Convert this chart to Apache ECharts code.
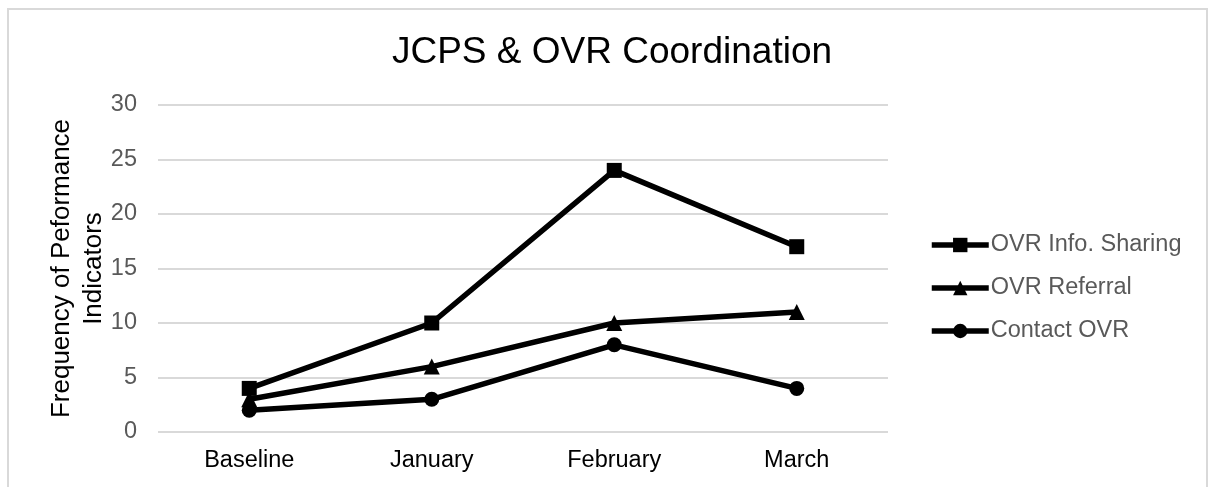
<!DOCTYPE html>
<html>
<head>
<meta charset="utf-8">
<script src="https://cdn.jsdelivr.net/npm/echarts@6/dist/echarts.min.js"></script>
<style>html,body{margin:0;padding:0;background:#fff}#c{width:1209px;height:487px}</style>
</head>
<body>
<div id="c"></div>
<script>
const categories = ['Baseline', 'January', 'February', 'March'];
const infoSharing = [4, 10, 24, 17];
const referral = [3, 6, 10, 11];
const contact = [2, 3, 8, 4];
const yTicks = [0, 5, 10, 15, 20, 25, 30];

const chart = echarts.init(document.getElementById('c'), null, {renderer: 'canvas'});
const FONT = 'Liberation Sans, Arial, sans-serif';
function mk(name, data, symbol, size) {
  return {
    name, type: 'line', data, symbol, symbolSize: size,
    lineStyle: {color: '#000', width: 5.5},
    itemStyle: {color: '#000'},
    animation: false
  };
}
chart.setOption({
  animation: false,
  graphic: [{
    type: 'rect', silent: true,
    shape: {x: 8, y: 9, width: 1199, height: 500},
    style: {fill: 'none', stroke: '#d9d9d9', lineWidth: 2}
  }],
  title: {
    text: 'JCPS & OVR Coordination',
    left: 607, top: 29, textAlign: 'center',
    textStyle: {fontFamily: FONT, fontSize: 37, fontWeight: 'normal', color: '#000', lineHeight: 38}
  },
  legend: {
    orient: 'vertical', left: 924, top: 228,
    itemWidth: 57, itemHeight: 18, itemGap: 19,
    lineStyle: {width: 5.5},
    textStyle: {fontFamily: FONT, fontSize: 23.5, color: '#595959', padding: [0, 0, 0, -3]},
    data: ['OVR Info. Sharing', 'OVR Referral', 'Contact OVR']
  },
  grid: {left: 158, right: 321, top: 105, bottom: 55, containLabel: false},
  xAxis: {
    type: 'category', data: categories, boundaryGap: true,
    axisLine: {show: false}, axisTick: {show: false},
    axisLabel: {fontFamily: FONT, fontSize: 23.5, color: '#000', margin: 17}
  },
  yAxis: {
    type: 'value', min: yTicks[0], max: yTicks[yTicks.length - 1], interval: 5,
    name: 'Frequency of Peformance\nIndicators',
    nameLocation: 'middle', nameRotate: 90, nameGap: 48, nameMoveOverlap: false,
    nameTextStyle: {fontFamily: FONT, fontSize: 26, color: '#000', lineHeight: 32},
    axisLine: {show: false}, axisTick: {show: false},
    axisLabel: {fontFamily: FONT, fontSize: 23.5, color: '#595959', margin: 21},
    splitLine: {lineStyle: {color: '#d9d9d9', width: 2}}
  },
  series: [
    mk('OVR Info. Sharing', infoSharing, 'rect', 15),
    mk('OVR Referral', referral, 'triangle', 16),
    mk('Contact OVR', contact, 'circle', 15)
  ]
});
</script>
</body>
</html>
